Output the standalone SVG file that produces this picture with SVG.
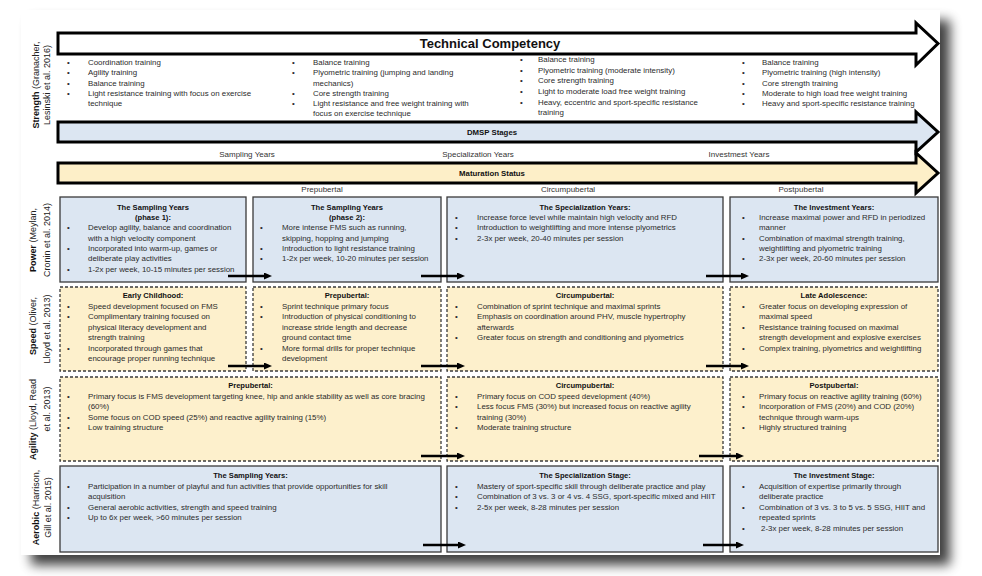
<svg xmlns="http://www.w3.org/2000/svg" width="982" height="576" viewBox="0 0 982 576">
<defs>
<filter id="sh" x="-5%" y="-5%" width="112%" height="115%">
<feGaussianBlur in="SourceAlpha" stdDeviation="6"/>
<feOffset dx="10" dy="10" result="o"/>
<feComponentTransfer><feFuncA type="linear" slope="0.75"/></feComponentTransfer>
<feMerge><feMergeNode/><feMergeNode in="SourceGraphic"/></feMerge>
</filter>
<marker id="ah" markerUnits="userSpaceOnUse" markerWidth="9" markerHeight="8" refX="2" refY="3.5" orient="auto">
<path d="M0,0 L8,3.5 L0,7 z" fill="#000"/>
</marker>
<style>
text{font-family:"Liberation Sans",Arial,sans-serif;font-size:7.9px;fill:#2b2b2b}
.b{font-weight:bold;fill:#111;font-size:7.6px}
.c{text-anchor:middle}
.lbl{font-size:9px;fill:#222;text-anchor:middle}
.lbl .b{font-size:9px}
.hd{font-size:8px;fill:#333}
.bx{stroke:#3a3a3a;stroke-width:1.3}
.blue{fill:#dce6f2}
.yel{fill:#fdf0cc}
.dash{stroke-dasharray:3 2}
.arr{stroke:#000;stroke-width:3;stroke-linejoin:miter}
.con{stroke:#000;stroke-width:2.6;fill:none;marker-end:url(#ah)}
</style>
</defs>
<rect x="0" y="0" width="982" height="576" fill="#fff"/>
<rect x="21" y="10" width="919" height="545" fill="#fff" filter="url(#sh)"/>

<g id="header">
<polygon class="arr" fill="#fff" points="58,33 916,33 916,23 938,43.5 916,65 916,54 58,54"/>
<text class="b c" x="490" y="48" style="font-size:13px">Technical Competency</text>
<polygon class="arr" fill="#dce6f2" points="58,122 916,122 916,112 938,132 916,152 916,142 58,142"/>
<text class="b c" x="492" y="135" style="font-size:7.8px">DMSP Stages</text>
<text class="hd c" x="247" y="157">Sampling Years</text>
<text class="hd c" x="478" y="157">Specialization Years</text>
<text class="hd c" x="739" y="157">Investmest Years</text>
<polygon class="arr" fill="#fdefc8" points="58,163 916,163 916,153 938,173 916,193 916,183 58,183"/>
<text class="b c" x="492" y="176" style="font-size:7.8px">Maturation Status</text>
<text class="hd c" x="322" y="192">Prepubertal</text>
<text class="hd c" x="568" y="192">Circumpubertal</text>
<text class="hd c" x="801" y="192">Postpubertal</text>
</g>

<g id="row-labels">
<text class="lbl" transform="translate(38.5,85) rotate(-90)"><tspan class="b">Strength</tspan> (Granacher,</text>
<text class="lbl" transform="translate(50,85) rotate(-90)">Lesinski et al. 2016)</text>
<text class="lbl" transform="translate(36.3,240) rotate(-90)"><tspan class="b">Power</tspan> (Meylan,</text>
<text class="lbl" transform="translate(50,240) rotate(-90)">Cronin et al. 2014)</text>
<text class="lbl" transform="translate(36.3,326) rotate(-90)"><tspan class="b">Speed</tspan> (Oliver,</text>
<text class="lbl" transform="translate(50,329) rotate(-90)">Lloyd et al. 2013)</text>
<text class="lbl" transform="translate(36.3,419.5) rotate(-90)"><tspan class="b">Agility</tspan> (Lloyd, Read</text>
<text class="lbl" transform="translate(50,409) rotate(-90)">et al. 2013)</text>
<text class="lbl" transform="translate(38.5,507.5) rotate(-90)"><tspan class="b">Aerobic</tspan> (Harrison,</text>
<text class="lbl" transform="translate(51,507.5) rotate(-90)">Gill et al. 2015)</text>
</g>

<g id="strength-1">
<text x="67" y="65">•</text><text x="67" y="75.3">•</text><text x="67" y="85.5">•</text><text x="67" y="95.8">•</text>
<text x="88" y="65">Coordination training</text>
<text x="88" y="75.3">Agility training</text>
<text x="88" y="85.5">Balance training</text>
<text x="88" y="95.8">Light resistance training with focus on exercise</text>
<text x="88" y="106">technique</text>
</g>
<g id="strength-2">
<text x="292" y="65">•</text><text x="292" y="75.3">•</text><text x="292" y="95.8">•</text><text x="292" y="106">•</text>
<text x="313" y="65">Balance training</text>
<text x="313" y="75.3">Plyometric training (jumping and landing</text>
<text x="313" y="85.5">mechanics)</text>
<text x="313" y="95.8">Core strength training</text>
<text x="313" y="106">Light resistance and free weight training with</text>
<text x="313" y="116.3">focus on exercise technique</text>
</g>
<g id="strength-3">
<text x="520" y="62">•</text><text x="520" y="72.7">•</text><text x="520" y="83.4">•</text><text x="520" y="94">•</text><text x="520" y="104.7">•</text>
<text x="538" y="62">Balance training</text>
<text x="538" y="72.7">Plyometric training (moderate intensity)</text>
<text x="538" y="83.4">Core strength training</text>
<text x="538" y="94">Light to moderate load free weight training</text>
<text x="538" y="104.7">Heavy, eccentric and sport-specific resistance</text>
<text x="538" y="115.4">training</text>
</g>
<g id="strength-4">
<text x="742" y="65">•</text><text x="742" y="75.3">•</text><text x="742" y="85.5">•</text><text x="742" y="95.8">•</text><text x="742" y="106">•</text>
<text x="762" y="65">Balance training</text>
<text x="762" y="75.3">Plyometric training (high intensity)</text>
<text x="762" y="85.5">Core strength training</text>
<text x="762" y="95.8">Moderate to high load free weight training</text>
<text x="762" y="106">Heavy and sport-specific resistance training</text>
</g>

<g id="power-1">
<rect class="bx blue" x="60" y="197" width="186" height="85"/>
<text class="b c" x="153" y="210">The Sampling Years</text>
<text class="b c" x="153" y="220">(phase 1):</text>
<text x="67" y="230.3">•</text><text x="67" y="251">•</text><text x="67" y="271.7">•</text>
<text x="88" y="230.3">Develop agility, balance and coordination</text>
<text x="88" y="240.7">with a high velocity component</text>
<text x="88" y="251">Incorporated into warm-up, games or</text>
<text x="88" y="261.4">deliberate play activities</text>
<text x="88" y="271.7">1-2x per week, 10-15 minutes per session</text>
</g>
<g id="power-2">
<rect class="bx blue" x="253" y="197" width="188" height="85"/>
<text class="b c" x="347" y="210">The Sampling Years</text>
<text class="b c" x="347" y="220">(phase 2):</text>
<text x="260" y="230.3">•</text><text x="260" y="251">•</text><text x="260" y="261.4">•</text>
<text x="282" y="230.3">More intense FMS such as running,</text>
<text x="282" y="240.7">skipping, hopping and jumping</text>
<text x="282" y="251">Introduction to light resistance training</text>
<text x="282" y="261.4">1-2x per week, 10-20 minutes per session</text>
</g>
<g id="power-3">
<rect class="bx blue" x="447" y="197" width="276" height="85"/>
<text class="b c" x="585" y="210">The Specialization Years:</text>
<text x="455" y="220">•</text><text x="455" y="230.3">•</text><text x="455" y="240.7">•</text>
<text x="477" y="220">Increase force level while maintain high velocity and RFD</text>
<text x="477" y="230.3">Introduction to weightlifting and more intense plyometrics</text>
<text x="477" y="240.7">2-3x per week, 20-40 minutes per session</text>
</g>
<g id="power-4">
<rect class="bx blue" x="730" y="197" width="208" height="85"/>
<text class="b c" x="834" y="210">The Investment Years:</text>
<text x="742" y="220">•</text><text x="742" y="240.7">•</text><text x="742" y="261.4">•</text>
<text x="759" y="220">Increase maximal power and RFD in periodized</text>
<text x="759" y="230.3">manner</text>
<text x="759" y="240.7">Combination of maximal strength training,</text>
<text x="759" y="251">weightlifting and plyometric training</text>
<text x="759" y="261.4">2-3x per week, 20-60 minutes per session</text>
</g>

<g id="speed-1">
<rect class="bx yel dash" x="60" y="287" width="186" height="84"/>
<text class="b c" x="153" y="298">Early Childhood:</text>
<text x="67" y="308.7">•</text><text x="67" y="319.1">•</text><text x="67" y="350.5">•</text>
<text x="88" y="308.7">Speed development focused on FMS</text>
<text x="88" y="319.1">Complimentary training focused on</text>
<text x="88" y="329.6">physical literacy development and</text>
<text x="88" y="340">strength training</text>
<text x="88" y="350.5">Incorporated through games that</text>
<text x="88" y="360.9">encourage proper running technique</text>
</g>
<g id="speed-2">
<rect class="bx yel dash" x="253" y="287" width="188" height="84"/>
<text class="b c" x="347" y="298">Prepubertal:</text>
<text x="260" y="308.7">•</text><text x="260" y="319.1">•</text><text x="260" y="350.5">•</text>
<text x="282" y="308.7">Sprint technique primary focus</text>
<text x="282" y="319.1">Introduction of physical conditioning to</text>
<text x="282" y="329.6">increase stride length and decrease</text>
<text x="282" y="340">ground contact time</text>
<text x="282" y="350.5">More formal drills for proper technique</text>
<text x="282" y="360.9">development</text>
</g>
<g id="speed-3">
<rect class="bx yel dash" x="447" y="287" width="276" height="84"/>
<text class="b c" x="585" y="298">Circumpubertal:</text>
<text x="455" y="308.7">•</text><text x="455" y="319.1">•</text><text x="455" y="340">•</text>
<text x="477" y="308.7">Combination of sprint technique and maximal sprints</text>
<text x="477" y="319.1">Emphasis on coordination around PHV, muscle hypertrophy</text>
<text x="477" y="329.6">afterwards</text>
<text x="477" y="340">Greater focus on strength and conditioning and plyometrics</text>
</g>
<g id="speed-4">
<rect class="bx yel dash" x="730" y="287" width="208" height="84"/>
<text class="b c" x="834" y="298">Late Adolescence:</text>
<text x="742" y="308.7">•</text><text x="742" y="329.6">•</text><text x="742" y="350.5">•</text>
<text x="759" y="308.7">Greater focus on developing expression of</text>
<text x="759" y="319.1">maximal speed</text>
<text x="759" y="329.6">Resistance training focused on maximal</text>
<text x="759" y="340">strength development and explosive exercises</text>
<text x="759" y="350.5">Complex training, plyometrics and weightlifting</text>
</g>

<g id="agility-1">
<rect class="bx yel dash" x="60" y="377" width="381" height="84"/>
<text class="b c" x="250.5" y="388">Prepubertal:</text>
<text x="67" y="398.7">•</text><text x="67" y="419.6">•</text><text x="67" y="430">•</text>
<text x="88" y="398.7">Primary focus is FMS development targeting knee, hip and ankle stability as well as core bracing</text>
<text x="88" y="409.1">(60%)</text>
<text x="88" y="419.6">Some focus on COD speed (25%) and reactive agility training (15%)</text>
<text x="88" y="430">Low training structure</text>
</g>
<g id="agility-2">
<rect class="bx yel dash" x="447" y="377" width="276" height="84"/>
<text class="b c" x="585" y="388">Circumpubertal:</text>
<text x="455" y="398.7">•</text><text x="455" y="409.1">•</text><text x="455" y="430">•</text>
<text x="477" y="398.7">Primary focus on COD speed development (40%)</text>
<text x="477" y="409.1">Less focus FMS (30%) but increased focus on reactive agility</text>
<text x="477" y="419.6">training (30%)</text>
<text x="477" y="430">Moderate training structure</text>
</g>
<g id="agility-3">
<rect class="bx yel dash" x="730" y="377" width="208" height="84"/>
<text class="b c" x="834" y="388">Postpubertal:</text>
<text x="742" y="398.7">•</text><text x="742" y="409.1">•</text><text x="742" y="430">•</text>
<text x="759" y="398.7">Primary focus on reactive agility training (60%)</text>
<text x="759" y="409.1">Incorporation of FMS (20%) and COD (20%)</text>
<text x="759" y="419.6">technique through warm-ups</text>
<text x="759" y="430">Highly structured training</text>
</g>

<g id="aerobic-1">
<rect class="bx blue" x="60" y="466" width="381" height="86"/>
<text class="b c" x="250.5" y="478">The Sampling Years:</text>
<text x="67" y="488.7">•</text><text x="67" y="509.6">•</text><text x="67" y="520">•</text>
<text x="88" y="488.7">Participation in a number of playful and fun activities that provide opportunities for skill</text>
<text x="88" y="499.1">acquisition</text>
<text x="88" y="509.6">General aerobic activities, strength and speed training</text>
<text x="88" y="520">Up to 6x per week, &gt;60 minutes per session</text>
</g>
<g id="aerobic-2">
<rect class="bx blue" x="447" y="466" width="276" height="86"/>
<text class="b c" x="585" y="478">The Specialization Stage:</text>
<text x="455" y="488.7">•</text><text x="455" y="499.1">•</text><text x="455" y="509.6">•</text>
<text x="477" y="488.7">Mastery of sport-specific skill through deliberate practice and play</text>
<text x="477" y="499.1">Combination of 3 vs. 3 or 4 vs. 4 SSG, sport-specific mixed and HIIT</text>
<text x="477" y="509.6">2-5x per week, 8-28 minutes per session</text>
</g>
<g id="aerobic-3">
<rect class="bx blue" x="730" y="466" width="208" height="86"/>
<text class="b c" x="834" y="478">The Investment Stage:</text>
<text x="742" y="488.7">•</text><text x="742" y="509.6">•</text><text x="742" y="530.5">•</text>
<text x="759" y="488.7">Acquisition of expertise primarily through</text>
<text x="759" y="499.1">deliberate practice</text>
<text x="759" y="509.6">Combination of 3 vs. 3 to 5 vs. 5 SSG, HIIT and</text>
<text x="759" y="520">repeated sprints</text>
<text x="761" y="530.5">2-3x per week, 8-28 minutes per session</text>
</g>

<g id="connectors">
<path class="con" d="M228,276 H266"/>
<path class="con" d="M421,276 H459"/>
<path class="con" d="M706,276 H743"/>
<path class="con" d="M228,366 H266"/>
<path class="con" d="M421,366 H459"/>
<path class="con" d="M706,366 H743"/>
<path class="con" d="M421,456 H459"/>
<path class="con" d="M699,456 H738"/>
<path class="con" d="M423,545 H460"/>
<path class="con" d="M703,545 H738"/>
</g>
</svg>
